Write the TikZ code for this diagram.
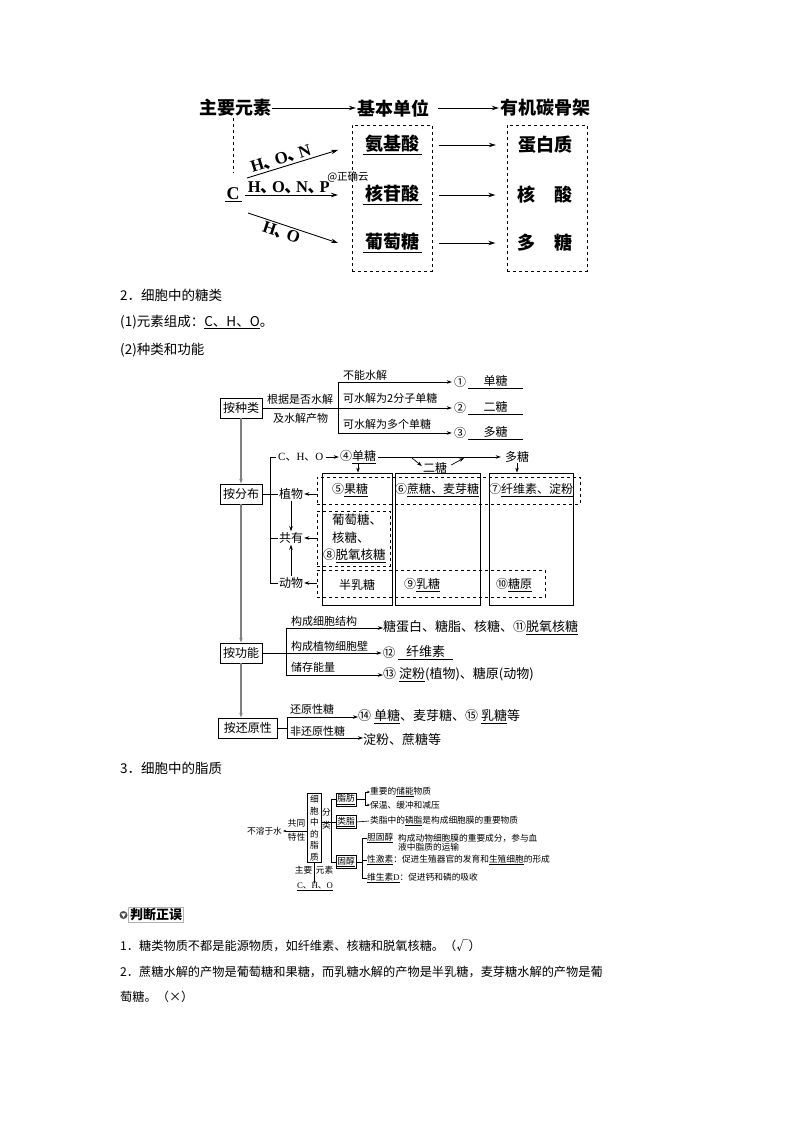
\documentclass[tikz,border=0pt]{standalone}
\usepackage{fontspec}
\setmainfont{Noto Sans CJK SC}
\newfontfamily\lser{Liberation Serif}
\usetikzlibrary{arrows.meta}
\newcommand\fsz[1]{\fontsize{#1}{#1}\selectfont}
\newcommand\blank[2]{\underline{\makebox[#1][c]{#2}}}
\newcommand\ser[1]{{\lser #1}}
\newcommand\dun{\kern-0.03em、\kern-0.28em}
\tikzset{
 arr/.style={-{Stealth[length=5pt,width=3.5pt]}, line width=0.7pt},
 sarr/.style={-{Stealth[length=3pt,width=2.4pt]}, line width=0.5pt},
 tarr/.style={-{Stealth[length=7pt,width=4.5pt]}, line width=0.9pt},
 gtr/.style={draw=gray, -{Stealth[length=5pt,width=3.5pt]}, line width=1.1pt},
 box/.style={draw, line width=0.8pt, inner xsep=3pt, inner ysep=2pt, minimum height=20pt, font=\fsz{12}},
 lab/.style={font=\fsz{11}, inner sep=0pt, anchor=west},
 txt/.style={font=\fsz{13}, inner sep=0pt, anchor=west},
 rowt/.style={font=\fsz{12}, inner sep=0pt},
 topf/.style={font=\fsz{18}\bfseries, inner sep=1pt},
 sbox/.style={draw, line width=0.8pt, inner sep=0pt},
 dbox/.style={draw, dashed, line width=0.7pt, inner sep=0pt},
 tbox/.style={draw, dashed, line width=0.9pt, inner sep=0pt, minimum width=80pt, minimum height=146pt},
 sm/.style={font=\fsz{8.7}, inner sep=0pt},
 smbox/.style={draw, line width=0.6pt, font=\fsz{8.7}, inner xsep=1.5pt, inner ysep=1.5pt},
 body/.style={font=\fsz{12.2}, inner sep=0pt, anchor=west},
 head/.style={font=\fsz{13.5}, inner sep=0pt, anchor=west},
 ln/.style={line width=0.7pt},
}
\begin{document}
\begin{tikzpicture}[x=1pt,y=-1pt]
\useasboundingbox (0,0) rectangle (794,1123);
\fill[white] (0,0) rectangle (794,1123);

% ---------- top diagram ----------
\node[topf] (zy) at (235,108) {主要元素};
\node[topf] (jb) at (393,108) {基本单位};
\node[topf] (yj) at (545,108) {有机碳骨架};
\draw[tarr] (zy.east) -- (jb.west);
\draw[tarr, shorten <=8pt] (jb.east) -- (yj.west);

\node[tbox] (b1) at (392,198) {};
\node[tbox] (b2) at (547,198) {};

\node[topf] (C) at (233,195) {\blank{17pt}{\ser{C}}};
\coordinate (cd) at (233,173);
\draw[dashed, line width=0.8pt] (zy.south -| cd) -- (cd);

\coordinate (c1) at (247,178); \coordinate (e1) at (338,150);
\coordinate (c2) at (245,195); \coordinate (e2) at (338,195);
\coordinate (c3) at (248,213); \coordinate (e3) at (338,243);
\draw[tarr] (c1) -- node[pos=0.4, above, sloped, font=\fsz{17}\bfseries, inner sep=1.5pt] {\ser{H}\dun\ser{O}\dun\ser{N}} (e1);
\draw[tarr] (c2) -- node[pos=0.47, above, font=\fsz{16.5}\bfseries, inner sep=0.5pt] {\ser{H}\dun\ser{O}\dun\ser{N}\dun\ser{P}} (e2);
\draw[tarr] (c3) -- node[pos=0.4, below, sloped, font=\fsz{17}\bfseries, inner sep=1.5pt] {\ser{H}\dun\ser{O}} (e3);

\node[topf] (aa) at (392,145) {\blank{59pt}{氨基酸}};
\node[topf] (hg) at (392,195) {\blank{59pt}{核苷酸}};
\node[topf] (pt) at (392,243) {\blank{59pt}{葡萄糖}};
\node[topf] (db) at (545,145) {蛋白质};
\node[topf] (hs) at (545,195) {核\hspace{19pt}酸};
\node[topf] (dt) at (545,243) {多\hspace{19pt}糖};
\draw[tarr, shorten <=16pt, shorten >=21pt] (aa.east) -- (db.west);
\draw[tarr, shorten <=16pt, shorten >=21pt] (hg.east) -- (hs.west);
\draw[tarr, shorten <=16pt, shorten >=21pt] (pt.east) -- (dt.west);
\node[font=\fsz{10.5}, inner sep=0pt] (wm) at (348,177) {@正确云};

% ---------- section 2 text ----------
\node[head] (s2) at (120,295) {2．细胞中的糖类};
\node[head] (s21) at (120,322) {(1)元素组成：\underline{C、H、O}。};
\node[head] (s22) at (120,350) {(2)种类和功能};

% ---------- by kind ----------
\node[box] (zl) at (241,408) {按种类};
\coordinate (k0) at (338,408);
\coordinate (k1) at (338,382);
\coordinate (k3) at (338,433);
\node[font=\fsz{12}, inner sep=0pt] (n1) at (460,382) {①};
\node[font=\fsz{12}, inner sep=0pt] (n2) at (460,408) {②};
\node[font=\fsz{12}, inner sep=0pt] (n3) at (460,433) {③};
\node[font=\fsz{12}, inner sep=0pt] (a1) at (495.5,382) {\blank{55pt}{单糖}};
\node[font=\fsz{12}, inner sep=0pt] (a2) at (495.5,408) {\blank{55pt}{二糖}};
\node[font=\fsz{12}, inner sep=0pt] (a3) at (495.5,433) {\blank{55pt}{多糖}};
\draw[ln] (zl.east) -- (k0);
\draw[ln] (k1) -- (k3);
\draw[arr] (k1) -- ([xshift=-2pt]n1.west);
\draw[arr] (k0) -- ([xshift=-2pt]n2.west);
\draw[arr] (k3) -- ([xshift=-2pt]n3.west);
\node[lab] at (267,399) {根据是否水解};
\node[lab] at (273,418) {及水解产物};
\node[lab] at (343,375) {不能水解};
\node[lab] at (343,398) {可水解为2分子单糖};
\node[lab] at (343,424) {可水解为多个单糖};

% ---------- trunk ----------
\node[box] (fb) at (241,494) {按分布};
\node[box] (gn) at (241,653) {按功能};
\node[box, anchor=west, minimum width=59pt] (hy) at (218,728) {按还原性};
\draw[gtr] (zl) -- (fb);
\draw[gtr] (fb) -- (gn);
\draw[gtr] (gn.south) -- (gn.south |- hy.north);

% ---------- by distribution ----------
\node[font=\fsz{11}, inner sep=0pt, anchor=west] (cho) at (278,457) {\ser{C}、\ser{H}、\ser{O}};
\node[font=\fsz{12}, inner sep=0pt] (d4) at (358,457) {④\underline{单糖}};
\node[font=\fsz{12}, inner sep=0pt] (dt2) at (517,457) {多糖};
\node[font=\fsz{12}, inner sep=0pt] (et) at (435,468) {二糖};
\draw[arr] ([xshift=2pt]cho.east) -- ([xshift=-1pt]d4.west);
\draw[arr, shorten <=2pt, shorten >=4pt] (d4.east) -- (dt2.west);
\coordinate (q1) at (412,458);
\coordinate (q2) at (464,458);
\draw[arr] (q1) -- ([shift={(-1pt,2pt)}]et.west);
\draw[arr] ([shift={(4pt,3pt)}]et.east) -- (q2);

\node[sbox, minimum width=70pt, minimum height=132pt] (bx1) at (357,539) {};
\node[sbox, minimum width=85pt, minimum height=132pt] (bx2) at (437.5,539) {};
\node[sbox, minimum width=84pt, minimum height=132pt] (bx3) at (531,539) {};
\draw[arr] (d4.south) -- (d4.south |- bx1.north);
\draw[arr] (dt2.south) -- (dt2.south |- bx3.north);

\node[dbox, minimum width=263pt, minimum height=27pt] (r1) at (448.5,490.5) {};
\node[dbox, minimum width=73pt, minimum height=55pt] (r2) at (353.5,538.5) {};
\node[dbox, minimum width=228pt, minimum height=27pt] (r3) at (431,583.5) {};

\node[font=\fsz{12}, inner sep=1pt] (zw) at (291,494) {植物};
\node[font=\fsz{12}, inner sep=1pt] (gy) at (291,538) {共有};
\node[font=\fsz{12}, inner sep=1pt] (dw) at (291,583) {动物};
\coordinate (v1) at (270,457);
\coordinate (v2) at (270,583);
\draw[ln] (fb.east) -- (zw.west);
\draw[ln] ([xshift=-2pt]cho.west) -- (v1) -- (v2) -- (dw.west);
\draw[ln] (gy.west) -- (gy.west -| v1);
\draw[arr] (r1.west |- zw) -- (zw.east);
\draw[arr] (r2.west |- gy) -- (gy.east);
\draw[arr] (r3.west |- dw) -- (dw.east);
\draw[arr] (zw.south) -- (gy.north);
\draw[arr] (dw.north) -- (gy.south);

\node[rowt] (t5) at (350,490) {⑤\underline{果糖}};
\node[rowt] (t6) at (437,490) {⑥\underline{蔗糖、麦芽糖}};
\node[rowt] (t7) at (531,490) {⑦\underline{纤维素、淀粉}};
\node[font=\fontsize{12.5}{17.5}\selectfont, inner sep=0pt, align=left, anchor=north west] (t8) at (323,514) {\hspace{9pt}葡萄糖、\\\hspace{9pt}核糖、\\⑧\underline{脱氧核糖}};
\node[rowt] (tb) at (357,585) {半乳糖};
\node[rowt] (t9) at (422,585) {⑨\underline{乳糖}};
\node[rowt] (t10) at (514,585) {⑩\underline{糖原}};

% ---------- by function ----------
\coordinate (f1) at (286,628);
\coordinate (f3) at (286,675);
\draw[ln] (f1) -- (f3);
\node[txt] (g1) at (383,628) {糖蛋白、糖脂、核糖、⑪\underline{脱氧核糖}};
\node[font=\fsz{12.5}, inner sep=0pt] (n12) at (389,653) {⑫};
\node[font=\fsz{13}, inner sep=0pt] (a12) at (425.5,653) {\blank{55pt}{纤维素}};
\node[txt] (g3) at (383,675) {⑬ \underline{淀粉}(植物)、糖原(动物)};
\draw[arr] (f1) -- (g1.west);
\draw[arr] (gn.east) -- ([xshift=-1pt]n12.west);
\draw[arr] (f3) -- (g3.west);
\node[lab] at (291,621) {构成细胞结构};
\node[lab] at (291,646) {构成植物细胞壁};
\node[lab] at (291,667) {储存能量};

% ---------- by reducibility ----------
\coordinate (h1) at (287,717);
\coordinate (h3) at (287,738);
\draw[ln] (hy.east) -- (hy.east -| h1);
\draw[ln] (h1) -- (h3);
\node[txt] (r14) at (358,717) {⑭ \underline{单糖}、麦芽糖、⑮ \underline{乳糖}等};
\node[txt] (rn) at (363,740) {淀粉、蔗糖等};
\draw[arr] (h1) -- (r14.west);
\draw[arr] (h3) -- (rn.west |- h3);
\node[lab] at (290,709) {还原性糖};
\node[lab] at (290,731) {非还原性糖};

% ---------- section 3 ----------
\node[head] (s3) at (120,768) {3．细胞中的脂质};

\node[draw, line width=0.6pt, font=\fontsize{8.7}{11.5}\selectfont, align=center, inner xsep=2.5pt, inner ysep=1.5pt] (lz) at (314.5,828) {细\\胞\\中\\的\\脂\\质};
\node[sm] (bs) at (264.5,831) {不溶于水};
\draw[sarr] (lz.west |- bs) -- ([xshift=1pt]bs.east);
\node[sm] (gt1) at (296.5,823) {共同};
\node[sm] (gt2) at (296.5,837) {特性};
\node[sm] (zy2) at (303.5,870) {主要};
\node[sm] (ys2) at (324.5,870) {元素};
\node[sm] (cho2) at (315,887) {\underline{\ser{C}、\ser{H}、\ser{O}}};
\draw[sarr] (lz.south) -- ([yshift=-1pt]lz.south |- cho2.north);
\node[sm] (fl1) at (326.5,812) {分};
\node[sm] (fl2) at (326.5,825) {类};

\coordinate (l1) at (331,799.5);
\coordinate (l3) at (331,862);
\draw[line width=0.6pt] (l1) -- (l3);
\node[smbox] (zf) at (346,799.5) {\underline{脂肪}};
\node[smbox] (lzb) at (346,822) {\underline{类脂}};
\node[smbox] (gc) at (346,862) {\underline{固醇}};
\draw[line width=0.6pt] (l1) -- (zf.west);
\draw[line width=0.6pt] (lz.east |- lzb) -- (lzb.west);
\draw[line width=0.6pt] (l3) -- (gc.west);

\coordinate (p0) at (365,799.5);
\coordinate (p1) at (365,792);
\coordinate (p2) at (365,805);
\draw[line width=0.6pt] (zf.east) -- (p0);
\draw[line width=0.6pt] (p1) -- (p2);
\node[sm, anchor=west] (zf1) at (370,792) {重要的\underline{储能}物质};
\node[sm, anchor=west] (zf2) at (370,805) {保温、缓冲和减压};
\draw[sarr] (p1) -- (zf1.west);
\draw[sarr] (p2) -- (zf2.west);

\node[sm, anchor=west] (lz1) at (370,821) {类脂中的\underline{磷脂}是构成细胞膜的重要物质};
\draw[line width=0.6pt] (lzb.east) -- ([xshift=-1pt]lz1.west);

\coordinate (g0) at (362,862);
\coordinate (g1) at (362,838);
\coordinate (g2) at (362,860);
\coordinate (g3) at (362,878);
\draw[line width=0.6pt] (gc.east) -- (g0);
\draw[line width=0.6pt] (g1) -- (g3);
\node[sm, anchor=west] (c1t) at (367,838) {\underline{胆固醇}};
\node[font=\fontsize{8.7}{9.8}\selectfont, inner sep=0pt, anchor=north west, align=left] (c1d) at (398,833.6) {构成动物细胞膜的重要成分，参与血\\液中脂质的运输};
\node[sm, anchor=west] (c2t) at (367,860) {\underline{性激素}：促进生殖器官的发育和\underline{生殖细胞}的形成};
\node[sm, anchor=west] (c3t) at (367,878) {\underline{维生素\ser{D}}：促进钙和磷的吸收};
\draw[line width=0.6pt] (g1) -- (c1t.west);
\draw[line width=0.6pt] (g2) -- (c2t.west);
\draw[line width=0.6pt] (g3) -- (c3t.west);

% ---------- judgement ----------
\fill[gray!60!black] (123.5,915) circle (4pt);
\fill[white] (121.1,913.3) -- (125.9,913.3) -- (123.5,917.5) -- cycle;
\node[draw=gray!60, line width=0.5pt, font=\fsz{13}\bfseries, inner xsep=1.5pt, inner ysep=1pt] (pd) at (156,915) {判断正误};
\node[body] (j1) at (120,946) {1．糖类物质不都是能源物质，如纤维素、核糖和脱氧核糖。（√）};
\node[body] (j2) at (120,972) {2．蔗糖水解的产物是葡萄糖和果糖，而乳糖水解的产物是半乳糖，麦芽糖水解的产物是葡};
\node[body] (j3) at (120,997) {萄糖。（×）};
\end{tikzpicture}
\end{document}
